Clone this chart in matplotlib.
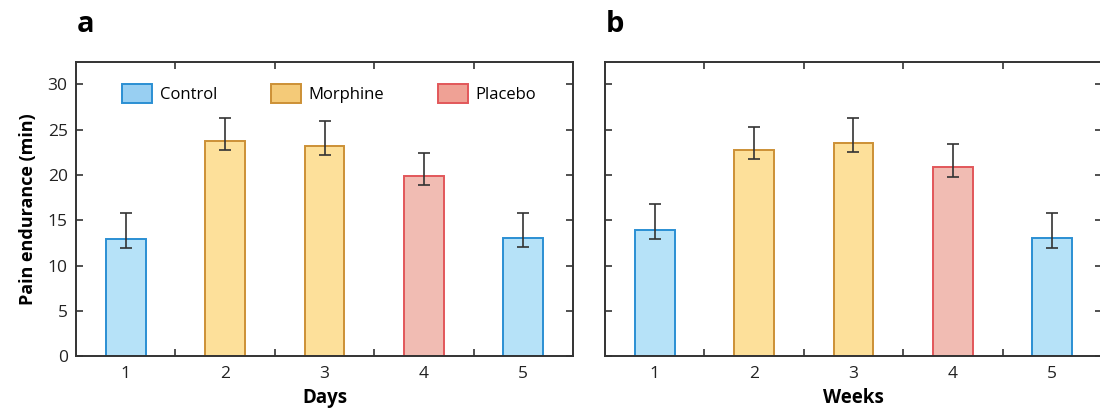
import matplotlib
matplotlib.use("Agg")
import matplotlib.pyplot as plt
from matplotlib.patches import Patch
import numpy as np

plt.rcParams["font.family"] = ["Open Sans", "DejaVu Sans"]

# data
periods = [1, 2, 3, 4, 5]
groups = ["Control", "Morphine", "Morphine", "Placebo", "Control"]

days_mean = [12.9, 23.8, 23.25, 19.9, 13.05]
days_err_lo = [1.0, 1.0, 1.05, 1.05, 1.0]
days_err_hi = [2.9, 2.5, 2.75, 2.55, 2.8]

weeks_mean = [13.9, 22.8, 23.55, 20.85, 13.0]
weeks_err_lo = [1.0, 1.0, 1.05, 1.05, 1.0]
weeks_err_hi = [2.9, 2.5, 2.8, 2.55, 2.8]

legend_labels = ["Control", "Morphine", "Placebo"]

fill = {"Control": "#b6e2f8", "Morphine": "#fde09a", "Placebo": "#f1bcb3"}
edge = {"Control": "#2b8fd3", "Morphine": "#cc9036", "Placebo": "#e2575a"}
legend_fill = {"Control": "#98cff2", "Morphine": "#f4ca78", "Placebo": "#efa195"}
AX = "#333333"


def draw_panel(ax, means, lo, hi, xlabel, show_ylabels):
    x = np.asarray(periods)
    ax.bar(x, means, width=0.4,
           color=[fill[g] for g in groups],
           edgecolor=[edge[g] for g in groups], linewidth=1.4, zorder=2)
    ax.errorbar(x, means, yerr=[lo, hi], fmt="none", ecolor=AX,
                elinewidth=1.2, capsize=4.5, capthick=1.2, zorder=3)

    ax.set_xlim(0.5, 5.5)
    ax.set_ylim(0, 32.5)
    ax.set_xticks(x)
    ax.set_xticks([1.5, 2.5, 3.5, 4.5], minor=True)
    ax.set_yticks(range(0, 31, 5))
    ax.tick_params(axis="x", which="major", length=0, pad=7, labelsize=12.5,
                   colors="#222222")
    ax.tick_params(axis="x", which="minor", direction="in", length=5,
                   width=1.2, color=AX, top=True, bottom=True)
    ax.tick_params(axis="y", direction="in", length=5, width=1.2, color=AX,
                   left=True, right=True, labelleft=show_ylabels,
                   labelsize=12.5, labelcolor="#222222", pad=6)
    for s in ax.spines.values():
        s.set_color(AX)
        s.set_linewidth(1.4)
    ax.set_xlabel(xlabel, fontsize=13.5, fontweight="bold", labelpad=4)


fig = plt.figure(figsize=(11, 4.16), dpi=100)
ax_a = fig.add_axes([0.0691, 0.1435, 0.4518, 0.708])
ax_b = fig.add_axes([0.5500, 0.1435, 0.4518, 0.708])

draw_panel(ax_a, days_mean, days_err_lo, days_err_hi, "Days", True)
draw_panel(ax_b, weeks_mean, weeks_err_lo, weeks_err_hi, "Weeks", False)
ax_a.set_ylabel("Pain endurance (min)", fontsize=13, fontweight="bold",
                labelpad=8)

handles = [Patch(facecolor=legend_fill[g], edgecolor=edge[g], linewidth=1.4)
           for g in legend_labels]
ax_a.legend(handles, legend_labels, ncol=3, frameon=False, loc="upper left",
            bbox_to_anchor=(0.0926, 0.926), borderaxespad=0, borderpad=0,
            fontsize=12, handlelength=1.8, handleheight=1.44,
            handletextpad=0.48, columnspacing=3.2)

fig.text(77 / 1100, 1 - 32 / 416, "a", fontsize=21, fontweight="bold",
         va="baseline", ha="left")
fig.text(606 / 1100, 1 - 32 / 416, "b", fontsize=21, fontweight="bold",
         va="baseline", ha="left")

fig.savefig("out.png", dpi=100)
